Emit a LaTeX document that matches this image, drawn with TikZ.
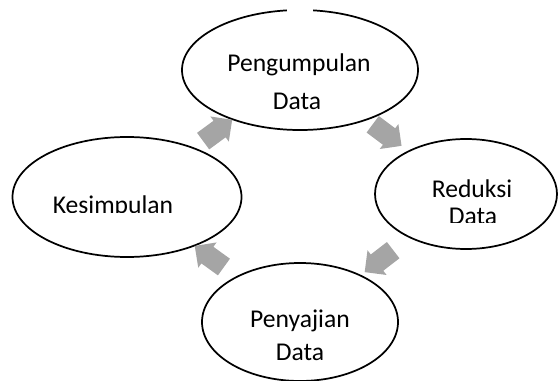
\documentclass[tikz,border=0pt]{standalone}
\usepackage{fontspec}
\setmainfont{Carlito}
\usetikzlibrary{arrows.meta,positioning,calc,shapes.geometric,shapes.arrows}
\definecolor{arrowgray}{HTML}{A5A5A5}
\tikzset{
  bubble/.style={draw=black,line width=1.3pt,ellipse,inner sep=0pt},
  bubbletext/.style={color=black,anchor=base,inner sep=0pt,font=\fontsize{19.2}{22}\selectfont},
  cyclearrow/.style={single arrow,fill=arrowgray,draw=none,inner xsep=0pt,inner ysep=7.5pt,
    minimum height=27pt,single arrow head extend=4pt}
}
\begin{document}
\begin{tikzpicture}[x=0.75pt,y=-0.75pt]
% ==========================================
\useasboundingbox (0,0) rectangle (560,381);
%
\node (pengumpulan) at (300,70) [bubble,minimum width=177pt,minimum height=90pt] {};
\fill[white] (287,3) rectangle (313,16);
\node (pengumpulanA) at (299,72) [bubbletext] {Pengumpulan};
\node (pengumpulanB) at (297,110) [bubbletext] {Data};
%
\node (reduksi) at (466,194) [bubble,minimum width=136.5pt,minimum height=82.5pt] {};
\begin{scope}
\clip (375,140) rectangle (557,222);
\node (reduksiA) at (472,197) [bubbletext] {Reduksi};
\node (reduksiB) at (473,224) [bubbletext] {Data};
\end{scope}
%
\node (penyajian) at (300,322) [bubble,minimum width=147pt,minimum height=88.5pt] {};
\node (penyajianA) at (300,327) [bubbletext] {Penyajian};
\node (penyajianB) at (300,360) [bubbletext] {Data};
%
\node (kesimpulan) at (127,197) [bubble,minimum width=171.75pt,minimum height=90pt] {};
\begin{scope}
\clip (13,137) rectangle (242,212);
\node (kesimpulanA) at (113,213) [bubbletext] {Kesimpulan};
\end{scope}
%
% block arrows round the cycle
\path (kesimpulan.center) -- (pengumpulan.center)
  node (arrowKP) [cyclearrow,midway,sloped,allow upside down] {};
\path (pengumpulan.center) -- (reduksi.center)
  node (arrowPR) [cyclearrow,midway,sloped,allow upside down] {};
\path (reduksi.center) -- (penyajian.center)
  node (arrowRS) [cyclearrow,midway,sloped,allow upside down] {};
\path (penyajian.center) -- (kesimpulan.center)
  node (arrowSK) [cyclearrow,midway,sloped,allow upside down] {};
% =============================================
\end{tikzpicture}
\end{document}
